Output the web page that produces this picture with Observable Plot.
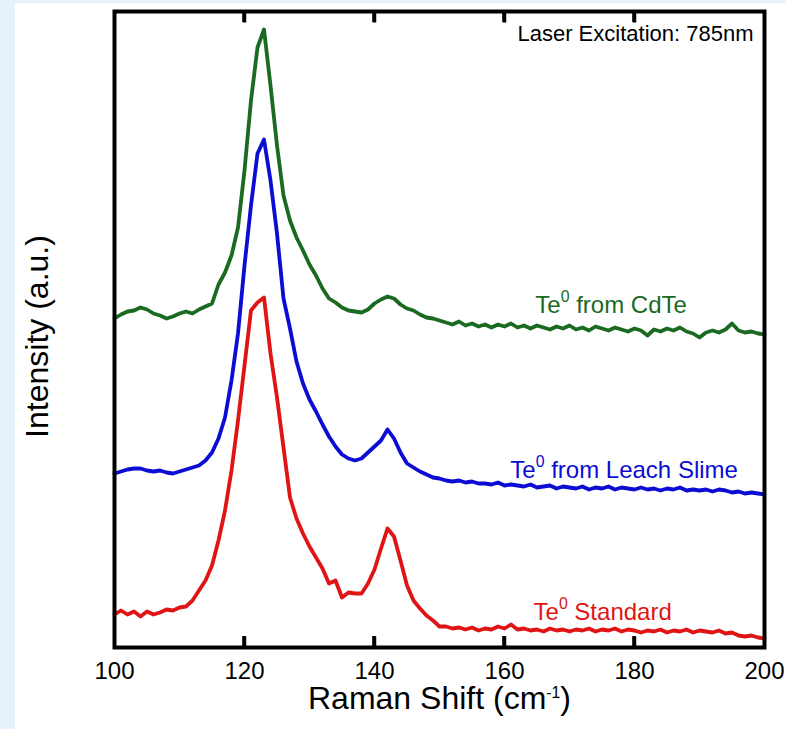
<!DOCTYPE html>
<html><head><meta charset="utf-8">
<script src="https://cdn.jsdelivr.net/npm/d3@7"></script>
<script src="https://cdn.jsdelivr.net/npm/@observablehq/plot@0.6"></script>
<style>
body{margin:0;background:#e7f1fc;}
#wrap{position:relative;width:786px;height:729px;}
#panel{position:absolute;left:15px;top:3px;right:0;bottom:0;background:#fff;}
#chart{position:absolute;left:0;top:0;}
</style></head><body>
<div id="wrap"><div id="panel"></div><div id="chart"></div></div>
<script>
const shift = [
100,101,102,103,104,105,106,107,108,109,
110,111,112,113,114,115,116,117,118,119,
120,121,122,123,124,125,126,127,128,129,
130,131,132,133,134,135,136,137,138,139,
140,141,142,143,144,145,146,147,148,149,
150,151,152,153,154,155,156,157,158,159,
160,161,162,163,164,165,166,167,168,169,
170,171,172,173,174,175,176,177,178,179,
180,181,182,183,184,185,186,187,188,189,
190,191,192,193,194,195,196,197,198,199,200];

const standard = [
33,37,33,36,31,36,33,35,38,37,
40,41,47,57,67,82,107,137,177,227,
282,337,345,350,294,250,200,150,129,114,
101,90,79,64,67,50,55,54,54,64,
78,99,119,111,87,62,47,39,32,27,
21,21,19,20,18,20,17,19,18,21,
19,23,18,19,17,18,16,19,17,18,
16,18,17,19,16,18,17,19,16,18,
17,15,17,16,18,15,17,16,18,15,
17,16,15,17,14,15,12,11,12,10,9];

const leachSlime = [
174,176,178,179,179,177,176,177,175,174,
176,178,180,182,187,195,209,230,267,314,
382,442,494,508,467,414,349,319,286,264,
248,236,223,211,201,193,189,187,189,195,
201,207,218,209,195,184,180,176,173,170,
169,167,166,167,165,166,164,164,163,165,
162,163,162,161,163,160,161,162,159,161,
160,159,161,158,160,159,161,158,160,159,
158,160,158,159,157,159,158,160,157,158,
157,158,156,158,157,155,156,154,155,154,153];

const cdte = [
329,333,336,337,340,338,334,332,329,331,
334,336,334,338,341,344,363,375,392,420,
477,547,600,618,562,502,452,427,410,397,
383,372,359,349,345,340,337,336,335,338,
344,348,351,349,343,339,337,333,330,329,
327,325,323,326,322,324,321,323,320,323,
321,324,320,322,319,322,320,318,321,319,
322,318,320,317,321,319,317,320,318,316,
319,317,312,318,316,319,317,320,316,314,
310,315,317,315,318,324,317,315,316,314,313];

const seriesNames = ["Te{0} Standard", "Te{0} from Leach Slime", "Te{0} from CdTe"];
const seriesColors = ["#e01414", "#0c0cd4", "#1b6a22"];
const xTicks = [100, 120, 140, 160, 180, 200];
const innerTicks = [120, 140, 160, 180];
const labelShift = [175.1, 178.4, 176.4];
const labelIntensity = [35, 177, 342];
const xTitle = "Raman Shift (cm{-1})";
const yTitle = "Intensity (a.u.)";
const note = "Laser Excitation: 785nm";

const rows = [];
[standard, leachSlime, cdte].forEach((arr, i) =>
  arr.forEach((v, j) => rows.push({shift: shift[j], intensity: v, series: seriesNames[i]})));
const labels = seriesNames.map((s, i) => ({series: s, shift: labelShift[i], intensity: labelIntensity[i]}));
const yDomain = [0, 636];
const tickLen = 11;
const bottomTicks = innerTicks.map(v => ({shift: v, from: yDomain[0], to: yDomain[0] + tickLen}));
const topTicks = innerTicks.map(v => ({shift: v, from: yDomain[1] - tickLen, to: yDomain[1]}));

const plot = Plot.plot({
  width: 786, height: 729,
  marginLeft: 114, marginRight: 22, marginTop: 11, marginBottom: 82,
  style: {background: "transparent", fontFamily: "'Liberation Sans', Arial, sans-serif", color: "#000"},
  x: {domain: [100, 200]},
  y: {domain: yDomain, axis: null},
  color: {domain: seriesNames, range: seriesColors},
  marks: [
    Plot.line(rows, {x: "shift", y: "intensity", z: "series", stroke: "series", strokeWidth: 3.8, strokeLinejoin: "round", strokeLinecap: "round"}),
    Plot.text(labels, {x: "shift", y: "intensity", text: "series", fill: "series", fontSize: 24, textAnchor: "middle"}),
    Plot.link(bottomTicks, {x1: "shift", x2: "shift", y1: "from", y2: "to", stroke: "black", strokeWidth: 3.5}),
    Plot.link(topTicks, {x1: "shift", x2: "shift", y1: "from", y2: "to", stroke: "black", strokeWidth: 3.5}),
    Plot.frame({stroke: "#000", strokeWidth: 4}),
    Plot.axisX({ticks: xTicks, anchor: "bottom", tickSize: 0, tickPadding: 14, fontSize: 24, label: null}),
    Plot.text([xTitle], {frameAnchor: "bottom", dy: 61, fontSize: 32, text: d => d}),
    Plot.text([yTitle], {frameAnchor: "left", textAnchor: "middle", rotate: -90, dx: -77, dy: 7, fontSize: 32, text: d => d}),
    Plot.text([note], {frameAnchor: "top-right", textAnchor: "end", lineAnchor: "top", dx: -11, dy: 14, fontSize: 22, text: d => d})
  ]
});

// superscripts: text written as "a{sup}b"
d3.select(plot).selectAll("text").each(function () {
  const s = this.textContent;
  const m = s.match(/^(.*)\{([^}]*)\}(.*)$/);
  if (!m) return;
  const fs = parseFloat(getComputedStyle(this).fontSize) || 24;
  const big = fs > 28;
  const supSize = fs * (big ? 0.6 : 0.66);
  const raise = fs * (big ? 0.53 : 0.45);
  const t = d3.select(this);
  t.text(null);
  t.append("tspan").text(m[1]);
  t.append("tspan").attr("font-size", supSize).attr("dy", -raise).text(m[2]);
  t.append("tspan").attr("dy", raise).text(m[3]);
});

// inward ticks, positioned through the chart's own scales
const sx = plot.scale("x"), sy = plot.scale("y");
const tg = d3.select(plot).append("g").attr("stroke", "#000").attr("stroke-width", 3.5);
[...bottomTicks, ...topTicks].forEach(d => {
  tg.append("line")
    .attr("x1", sx.apply(d.shift)).attr("x2", sx.apply(d.shift))
    .attr("y1", sy.apply(d.from)).attr("y2", sy.apply(d.to));
});

document.getElementById("chart").append(plot);
</script>
</body></html>
